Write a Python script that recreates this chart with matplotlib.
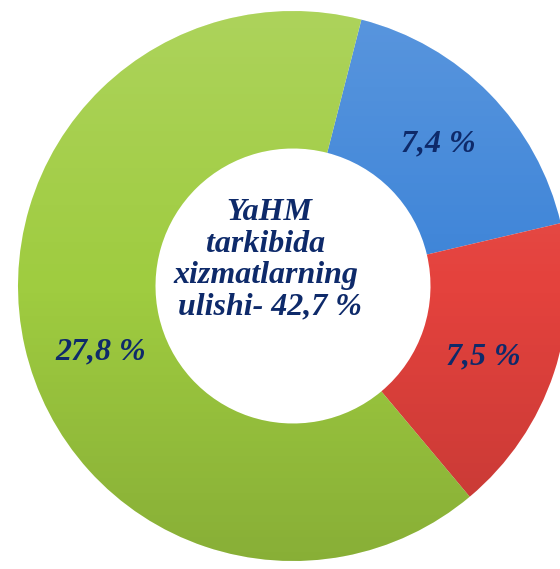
import numpy as np
import matplotlib.pyplot as plt

# shares of services in GDP, percent
labels = ["7,4 %", "7,5 %", "27,8 %"]
values = [7.4, 7.5, 27.8]
colors = ["#3d84d8", "#e4423d", "#9fcc40"]
center_text = "YaHM\ntarkibida \nxizmatlarning \nulishi- 42,7 %"

fig = plt.figure(figsize=(5.6, 5.69), dpi=100)
ax = fig.add_axes([0, 0, 1, 1])

wedges, _ = ax.pie(values, colors=colors, startangle=75.6, counterclock=False,
                   radius=1.0, wedgeprops=dict(width=0.5, edgecolor="none"))

# soft top-light / bottom-dark shading on each wedge
g = np.linspace(1, -1, 256)[:, None]
shade = np.zeros((256, 1, 4))
shade[..., :3] = np.where(g > 0, 1.0, 0.0)[..., None]
shade[..., 3] = np.abs(g) * 0.16
for w in wedges:
    im = ax.imshow(shade, extent=[-1.1, 1.1, -1.1, 1.1], aspect="auto",
                   zorder=w.get_zorder() + 0.1, interpolation="bilinear")
    im.set_clip_path(w)

# labels inside the ring
shift = [0, -2, 6]
for w, lab, s in zip(wedges, labels, shift):
    mid = np.deg2rad((w.theta1 + w.theta2) / 2 + s)
    r = 0.74
    ax.text(r * np.cos(mid), r * np.sin(mid), lab, ha="center", va="center",
            fontsize=23, fontweight="bold", fontstyle="italic",
            family="Liberation Serif", color="#0e2a6a", zorder=5)

ax.text(-0.085, 0.095, center_text, ha="center", va="center", fontsize=23,
        fontweight="bold", fontstyle="italic", family="Liberation Serif",
        color="#0e2a6a", linespacing=1.12, zorder=5)

ax.set_xlim(-293 / 275, (560 - 293) / 275)
ax.set_ylim(-(569 - 286) / 275, 286 / 275)
ax.set_aspect("auto")
ax.axis("off")

plt.savefig("out.png", dpi=100)
